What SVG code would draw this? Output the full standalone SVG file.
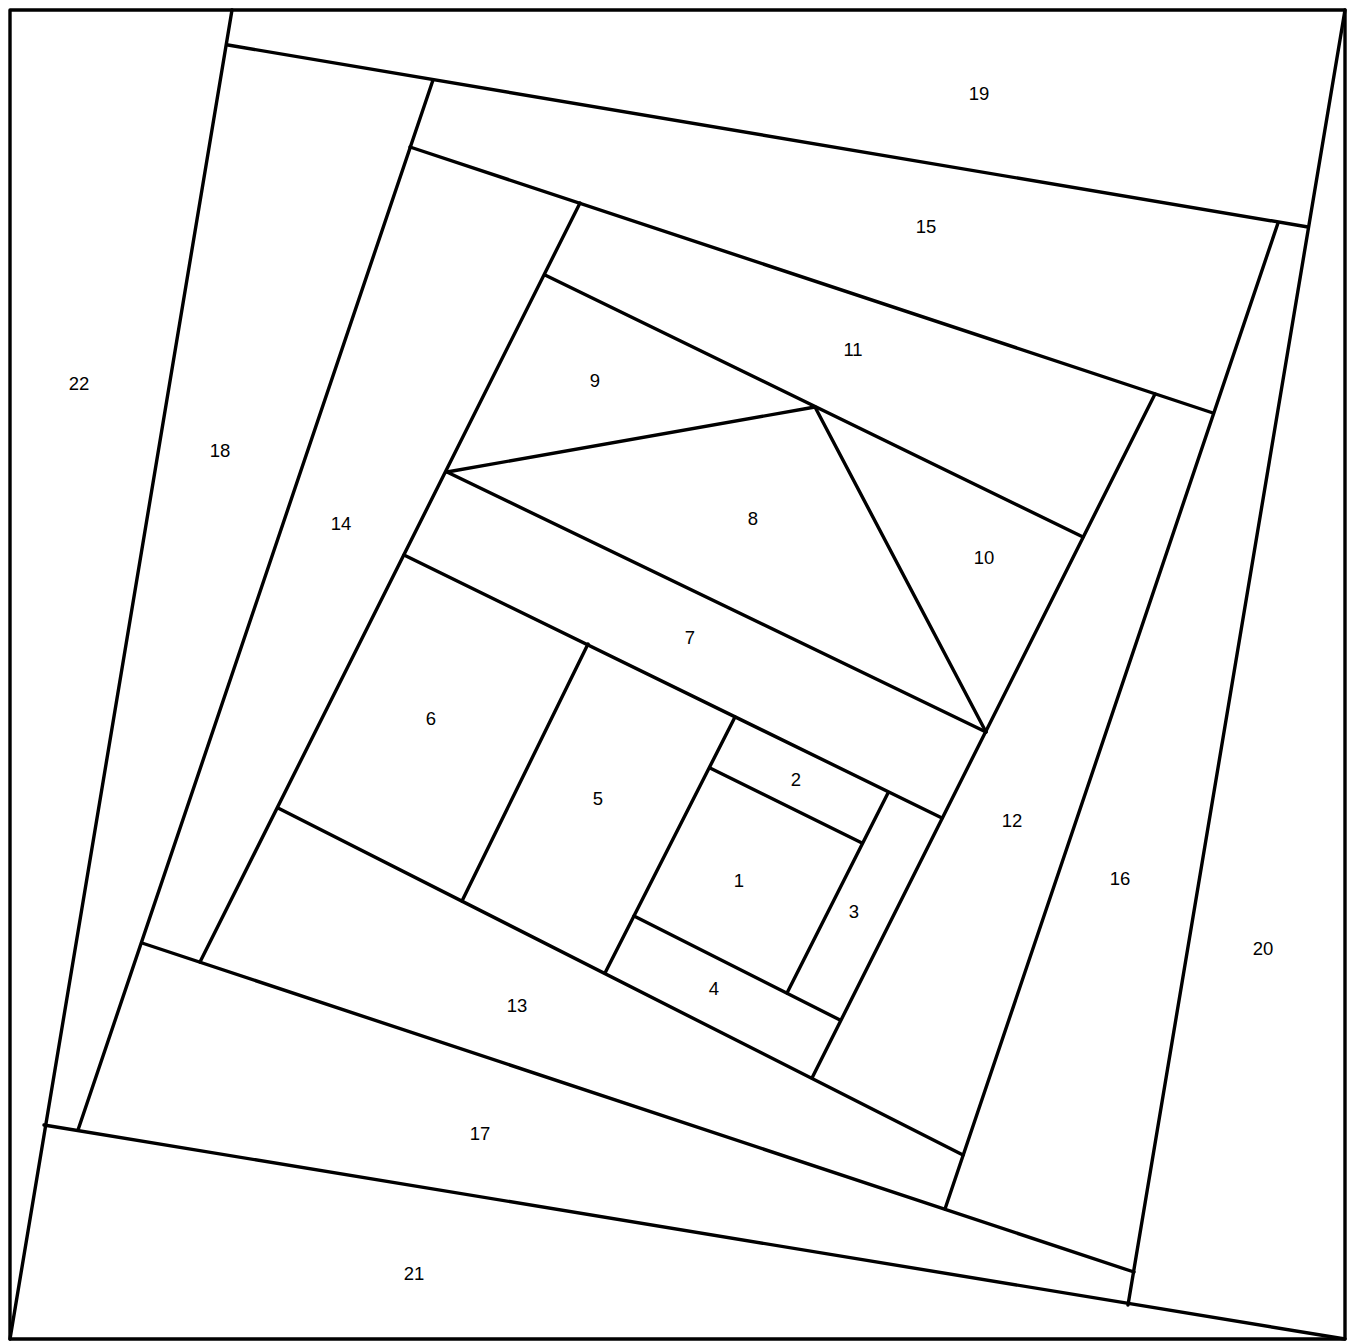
<svg xmlns="http://www.w3.org/2000/svg" width="1354" height="1341" viewBox="0 0 1354 1341">
<style>
.ln{stroke:#000;stroke-width:3.4;fill:none;stroke-linecap:round;stroke-linejoin:round}
.lb{font-family:"Liberation Sans",Arial,sans-serif;font-size:18.5px;fill:#000;text-anchor:middle}
</style>
<rect width="1354" height="1341" fill="#fff"/>
<g id="lines" class="ln">
<rect x="10" y="10" width="1335" height="1329"/>
<line x1="232" y1="10" x2="10" y2="1339"/>
<line x1="44" y1="1125" x2="1345" y2="1339"/>
<line x1="1345" y1="10" x2="1128" y2="1305"/>
<line x1="228" y1="45" x2="1308" y2="227"/>
<line x1="433" y1="80" x2="78" y2="1130"/>
<line x1="142" y1="943" x2="1134" y2="1272"/>
<line x1="1278" y1="223" x2="945" y2="1209"/>
<line x1="410" y1="147" x2="1213" y2="413"/>
<line x1="580" y1="203" x2="200" y2="962"/>
<line x1="1155" y1="394" x2="812" y2="1078"/>
<line x1="278" y1="808" x2="963" y2="1155"/>
<line x1="545" y1="275" x2="1083" y2="537"/>
<line x1="447" y1="472" x2="986" y2="732"/>
<line x1="447" y1="472" x2="815" y2="407"/>
<line x1="815" y1="407" x2="986" y2="732"/>
<line x1="404" y1="555" x2="942" y2="818"/>
<line x1="588" y1="644" x2="462" y2="901"/>
<line x1="735" y1="717" x2="605" y2="973"/>
<line x1="710" y1="768" x2="862" y2="843"/>
<line x1="888" y1="793" x2="787" y2="993"/>
<line x1="634" y1="916" x2="840" y2="1020"/>
</g>
<g id="labels" class="lb">
<text id="p1" x="739" y="887">1</text>
<text id="p2" x="796" y="786">2</text>
<text id="p3" x="854" y="918">3</text>
<text id="p4" x="714" y="995">4</text>
<text id="p5" x="598" y="805">5</text>
<text id="p6" x="431" y="725">6</text>
<text id="p7" x="690" y="644">7</text>
<text id="p8" x="753" y="525">8</text>
<text id="p9" x="595" y="387">9</text>
<text id="p10" x="984" y="564">10</text>
<text id="p11" x="853" y="356">11</text>
<text id="p12" x="1012" y="827">12</text>
<text id="p13" x="517" y="1012">13</text>
<text id="p14" x="341" y="530">14</text>
<text id="p15" x="926" y="233">15</text>
<text id="p16" x="1120" y="885">16</text>
<text id="p17" x="480" y="1140">17</text>
<text id="p18" x="220" y="457">18</text>
<text id="p19" x="979" y="100">19</text>
<text id="p20" x="1263" y="955">20</text>
<text id="p21" x="414" y="1280">21</text>
<text id="p22" x="79" y="390">22</text>
</g>
</svg>
